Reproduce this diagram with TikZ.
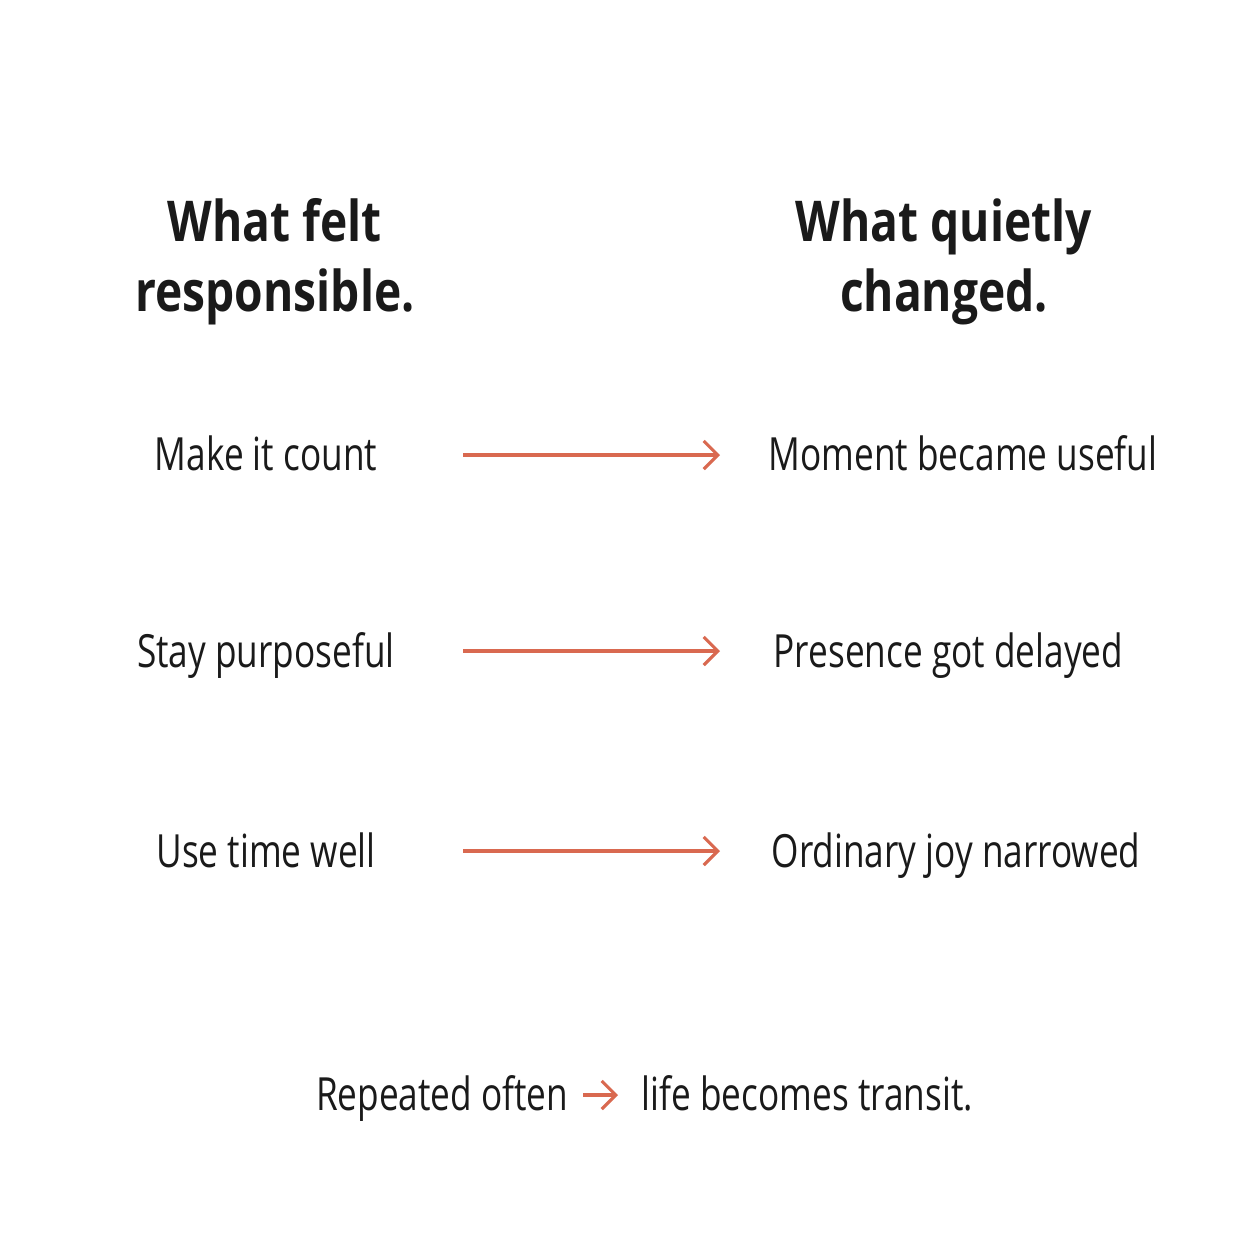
\documentclass[tikz,border=0pt]{standalone}
\usepackage{fontspec}
\setmainfont{Open Sans}
\newfontfamily\headfont[FakeStretch=0.82]{Open Sans}
\newfontfamily\narrowfont[FakeStretch=0.77]{Open Sans}
\usepackage{xcolor}
\definecolor{inkdark}{RGB}{26,26,26}
\definecolor{arrowred}{RGB}{217,105,80}
\usetikzlibrary{arrows.meta,positioning}
\tikzset{
  head/.style={font=\headfont\fontsize{16}{20}\selectfont\bfseries, text=inkdark,
               align=center, inner sep=0pt},
  item/.style={font=\narrowfont\fontsize{13}{16}\selectfont, text=inkdark, inner sep=0pt},
  flow/.style={-{Straight Barb[length=4pt,width=8pt,line width=0.9pt]},
               arrowred, line width=0.9pt},
}
\begin{document}
\begin{tikzpicture}[x=0.01cm, y=-0.01cm]
\useasboundingbox[fill=white] (0,0) rectangle (1254,1254);

% Column headings
\node[head] (lefthead) at (275,262) {What felt\\responsible.};
\node[head] (righthead) at (944,262) {What quietly\\changed.};

% Rows
\node[item, anchor=base] (make) at (266,470) {Make it count};
\node[item, anchor=base] (stay) at (266,667) {Stay purposeful};
\node[item, anchor=base] (use) at (266,867) {Use time well};

\node[item, anchor=base west] (moment) at (768,470) {Moment became useful};
\node[item, anchor=base west] (presence) at (773,667) {Presence got delayed};
\node[item, anchor=base west] (joy) at (771,867) {Ordinary joy narrowed};

\coordinate (a1) at (463,455); \coordinate (b1) at (720,455);
\coordinate (a2) at (463,651); \coordinate (b2) at (720,651);
\coordinate (a3) at (463,851); \coordinate (b3) at (720,851);
\draw[flow] (a1) -- (b1);
\draw[flow] (a2) -- (b2);
\draw[flow] (a3) -- (b3);

% Bottom line
\node[item, anchor=base east] (repeated) at (569,1110) {Repeated often};
\node[item, anchor=base west] (life) at (641,1110) {life becomes transit.};
\coordinate (c1) at (583,1095); \coordinate (c2) at (618,1095);
\draw[flow] (c1) -- (c2);

\end{tikzpicture}
\end{document}
